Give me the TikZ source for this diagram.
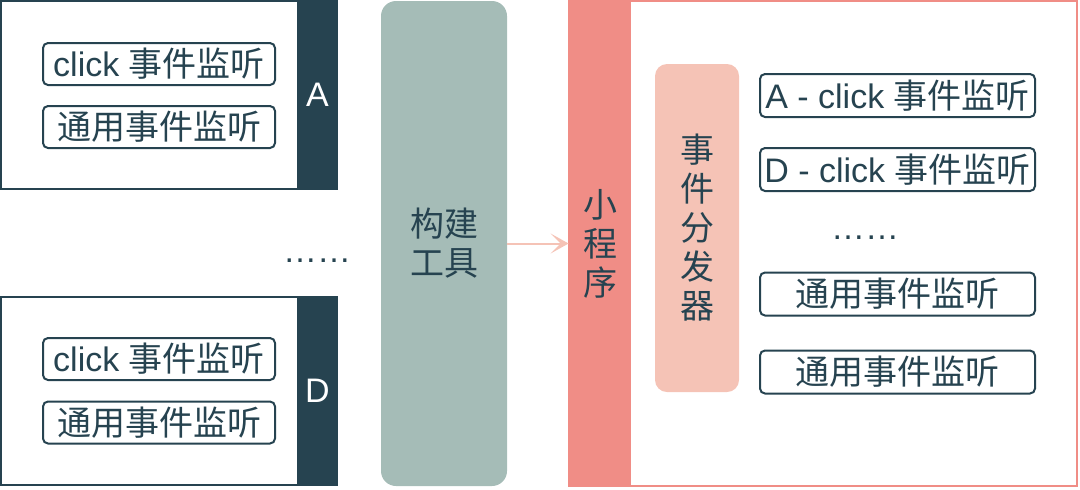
\documentclass[tikz,border=0pt]{standalone}
\usepackage{fontspec}
\setmainfont{Liberation Sans}
\newfontfamily\cjk{Noto Sans CJK SC}
\usepackage{xcolor}
\definecolor{HubNavy}{HTML}{264350}
\definecolor{HubSage}{HTML}{A5BCB7}
\definecolor{HubCoral}{HTML}{F08D86}
\definecolor{HubBlush}{HTML}{F5C3B6}
\usepackage{tikz}
\usetikzlibrary{arrows.meta}
\tikzset{
  hpanel/.style={draw=HubNavy,line width=1pt,inner sep=0pt,minimum width=148.5pt,minimum height=94pt},
  htag/.style={fill=HubNavy,text=white,inner sep=0pt,minimum width=20.5pt,minimum height=95pt,font=\fontsize{17}{19.5}\selectfont},
  hlisten/.style={draw=HubNavy,line width=1pt,rounded corners=2.5pt,text=HubNavy,inner sep=0pt,minimum width=116pt,minimum height=21pt,font=\fontsize{17}{19.5}\selectfont},
  hlistenwide/.style={hlisten,minimum width=137.5pt,minimum height=21.5pt},
  hdots/.style={text=HubNavy,anchor=base,inner sep=0pt,font=\fontsize{17}{19.5}\selectfont},
  htool/.style={fill=HubSage,rounded corners=7.5pt,align=center,text=HubNavy,minimum width=63pt,minimum height=242.5pt,font=\cjk\fontsize{17}{19.5}\selectfont},
  hframe/.style={draw=HubCoral,line width=1pt,minimum width=254pt,minimum height=242.5pt},
  happ/.style={fill=HubCoral,align=center,text=HubNavy,inner sep=0pt,minimum width=31pt,minimum height=243.5pt,font=\cjk\fontsize{17}{19.5}\selectfont},
  hdisp/.style={fill=HubBlush,rounded corners=6pt,align=center,text=HubNavy,inner sep=0pt,minimum width=42pt,minimum height=164pt,font=\cjk\fontsize{17}{19.5}\selectfont},
  hflow/.style={-{Stealth[length=9pt,width=10pt,inset=5pt]},draw=HubBlush,line width=1pt}
}

\begin{document}
\begin{tikzpicture}[x=0.5pt,y=-0.5pt]
  \useasboundingbox (0,0) rectangle (1080,489);
  % page A
  \node[hpanel] (panela) at (149.5,95) {};
  \node[htag] (taga) at (317.5,95) {A};
  \node[hlisten] (aclick) at (159,64) {click {\cjk 事件监听}};
  \node[hlisten] (ageneral) at (159,127) {\cjk 通用事件监听};
  % page D
  \node[hpanel] (paneld) at (149.5,391) {};
  \node[htag] (tagd) at (317.5,391) {D};
  \node[hlisten] (dclick) at (159,359) {click {\cjk 事件监听}};
  \node[hlisten] (dgeneral) at (159,422.5) {\cjk 通用事件监听};
  \node[hdots] (pagedots) at (317,262) {……};
  % build step
  \node[htool] (tool) at (444,243.5) {构建\\工具};
  \node[hframe] (frame) at (823,243.5) {};
  \node[happ] (app) at (600,243.5) {小\\程\\序};
  \draw[hflow] (tool) -- (app);
  % dispatcher and listeners
  \node[hdisp] (disp) at (697,228) {事\\件\\分\\发\\器};
  \node[hlistenwide] (aclickall) at (897.5,95.5) {A - click {\cjk 事件监听}};
  \node[hlistenwide] (dclickall) at (897.5,169.5) {D - click {\cjk 事件监听}};
  \node[hdots] (listdots) at (865,239) {……};
  \node[hlistenwide] (generalone) at (897.5,294) {\cjk 通用事件监听};
  \node[hlistenwide] (generaltwo) at (897.5,372) {\cjk 通用事件监听};
\end{tikzpicture}
\end{document}
